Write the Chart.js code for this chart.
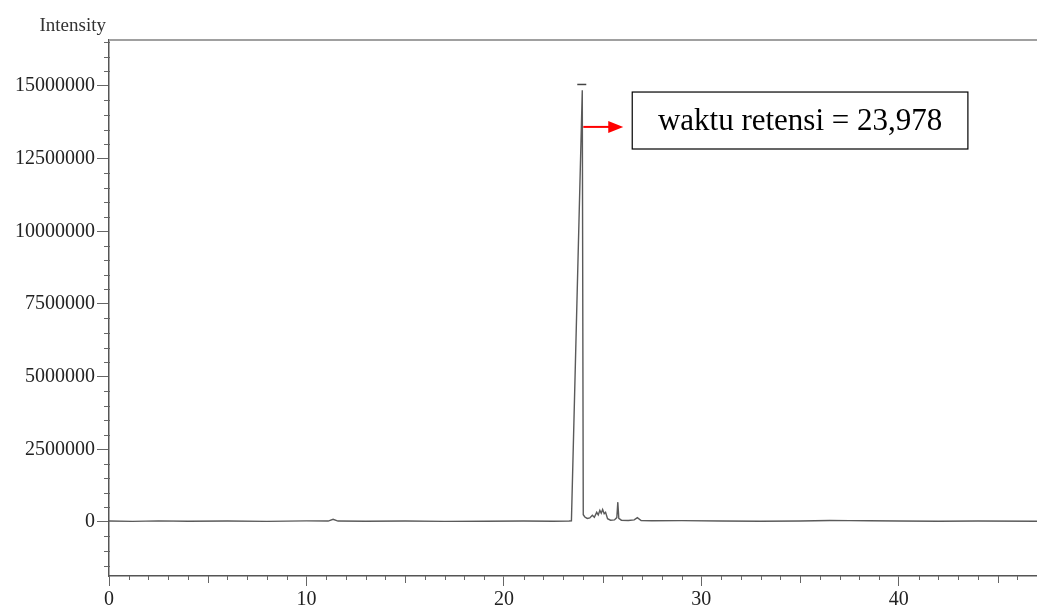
<!DOCTYPE html>
<html>
<head>
<meta charset="utf-8">
<script src="https://cdn.jsdelivr.net/npm/chart.js@4.4.1/dist/chart.umd.min.js"></script>
<style>
html, body { margin: 0; padding: 0; background: #fff; }
</style>
</head>
<body>
<canvas id="chromChart" width="1037" height="608"></canvas>
<script>
// chromatogram
const retentionTime = [0, 1.2, 2.5, 4, 6, 8, 10, 11.1, 11.35, 11.6, 13, 15, 17, 19, 21, 22.5,
    23.3, 23.42, 23.97, 24.02, 24.1, 24.22, 24.35, 24.48, 24.58, 24.7, 24.78, 24.86, 24.93,
    25.0, 25.08, 25.15, 25.25, 25.4, 25.6, 25.72, 25.77, 25.82, 25.95, 26.3, 26.6, 26.76,
    26.95, 27.5, 29, 31, 33, 35, 36.5, 37.5, 38.5, 40, 42, 44, 47];
const intensity = [30000, 20000, 35000, 25000, 30000, 20000, 35000, 30000, 90000, 30000,
    25000, 30000, 20000, 25000, 30000, 25000, 30000, 40000, 14850000, 250000, 170000, 120000,
    140000, 230000, 160000, 330000, 240000, 400000, 300000, 430000, 280000, 330000, 110000,
    60000, 70000, 150000, 680000, 120000, 60000, 50000, 70000, 150000, 50000, 40000, 45000,
    30000, 25000, 30000, 50000, 45000, 40000, 30000, 25000, 30000, 25000];

const xMajorTicks = [0, 10, 20, 30, 40];
const yMajorTicks = [0, 2500000, 5000000, 7500000, 10000000, 12500000, 15000000];
const xRange = [0, 47];
const yRange = [-1860000, 16580000];
const yTitle = "Intensity";

const peakTime = 23.97;
const peakLabel = "waktu retensi = 23,978";
// where the label box and arrow sit (in axis units)
const boxTimes = [26.5, 43.5];
const boxIntensity = [12830000, 14790000];
const arrowIntensity = 13590000;

const serif = "'Liberation Serif', 'Times New Roman', serif";

function range(from, to, step) {
    let out = [];
    for (let v = from; v <= to + 1e-9; v += step) out.push(Math.round(v * 1000) / 1000);
    return out;
}

const xAllTicks = range(0, 47, 1);
const yAllTicks = range(-1500000, 16500000, 500000);

// small ticks, borders, title and the annotation
const extras = {
    id: "extras",
    afterDraw(chart) {
        let ctx = chart.ctx;
        let area = chart.chartArea;
        let x = chart.scales.x;
        let y = chart.scales.y;

        ctx.save();
        ctx.strokeStyle = "#666";
        ctx.lineWidth = 1;
        xAllTicks.forEach(v => {
            if (xMajorTicks.includes(v)) return;
            let px = Math.round(x.getPixelForValue(v)) + 0.5;
            let len = v % 5 === 0 ? 7 : 4;
            ctx.beginPath();
            ctx.moveTo(px, area.bottom);
            ctx.lineTo(px, area.bottom + len);
            ctx.stroke();
        });
        yAllTicks.forEach(v => {
            if (yMajorTicks.includes(v)) return;
            let py = Math.round(y.getPixelForValue(v)) + 0.5;
            ctx.beginPath();
            ctx.moveTo(area.left - 5, py);
            ctx.lineTo(area.left + 1, py);
            ctx.stroke();
        });

        // top frame line
        ctx.strokeStyle = "#a0a0a0";
        ctx.lineWidth = 2;
        ctx.beginPath();
        ctx.moveTo(area.left, area.top);
        ctx.lineTo(chart.width, area.top);
        ctx.stroke();

        // axis title
        ctx.fillStyle = "#333";
        ctx.font = "19px " + serif;
        ctx.textAlign = "right";
        ctx.textBaseline = "alphabetic";
        ctx.fillText(yTitle, 106, 31);

        // peak number mark
        let peakX = x.getPixelForValue(peakTime);
        let markY = y.getPixelForValue(15050000);
        ctx.strokeStyle = "#444";
        ctx.lineWidth = 1.5;
        ctx.beginPath();
        ctx.moveTo(peakX - 5, markY);
        ctx.lineTo(peakX + 4, markY);
        ctx.stroke();

        // label box
        let bx1 = x.getPixelForValue(boxTimes[0]);
        let bx2 = x.getPixelForValue(boxTimes[1]);
        let by1 = y.getPixelForValue(boxIntensity[1]);
        let by2 = y.getPixelForValue(boxIntensity[0]);
        ctx.strokeStyle = "#000";
        ctx.lineWidth = 1.2;
        ctx.strokeRect(bx1, by1, bx2 - bx1, by2 - by1);
        ctx.fillStyle = "#000";
        ctx.font = "31px " + serif;
        ctx.textAlign = "center";
        ctx.textBaseline = "middle";
        ctx.fillText(peakLabel, (bx1 + bx2) / 2, (by1 + by2) / 2 + 1);

        // red arrow from the peak to the box
        let ay = y.getPixelForValue(arrowIntensity);
        let tip = bx1 - 9;
        ctx.strokeStyle = "#ff0000";
        ctx.fillStyle = "#ff0000";
        ctx.lineWidth = 2;
        ctx.beginPath();
        ctx.moveTo(peakX + 1, ay);
        ctx.lineTo(tip - 14, ay);
        ctx.stroke();
        ctx.beginPath();
        ctx.moveTo(tip, ay);
        ctx.lineTo(tip - 15, ay - 6);
        ctx.lineTo(tip - 15, ay + 6);
        ctx.closePath();
        ctx.fill();
        ctx.restore();
    }
};

let chart = new Chart(document.getElementById("chromChart"), {
    type: "line",
    data: {
        datasets: [{
            data: retentionTime.map((t, i) => ({ x: t, y: intensity[i] })),
            borderColor: "#5a5a5a",
            borderWidth: 1.4,
            pointRadius: 0,
            tension: 0,
            fill: false
        }]
    },
    options: {
        responsive: false,
        animation: false,
        layout: { padding: { top: 40, right: 0, left: 0, bottom: 0 } },
        plugins: {
            legend: { display: false },
            tooltip: { enabled: false }
        },
        scales: {
            x: {
                type: "linear",
                min: xRange[0],
                max: xRange[1],
                afterBuildTicks: scale => {
                    scale.ticks = xAllTicks.map(v => ({ value: v }));
                },
                afterFit: scale => {
                    scale.height = 32;
                    scale.paddingRight = 0;
                    scale.paddingLeft = 0;
                },
                ticks: {
                    autoSkip: false,
                    maxRotation: 0,
                    padding: 2,
                    color: "#222",
                    font: { family: serif, size: 20 },
                    callback: v => xMajorTicks.includes(v) ? String(v) : ""
                },
                grid: {
                    display: true,
                    drawOnChartArea: false,
                    tickLength: 10,
                    tickWidth: 1,
                    tickColor: c => xMajorTicks.includes(c.tick && c.tick.value) ? "#666" : "rgba(0,0,0,0)"
                },
                border: { display: true, color: "#555", width: 1.5 }
            },
            y: {
                type: "linear",
                min: yRange[0],
                max: yRange[1],
                afterBuildTicks: scale => {
                    scale.ticks = yAllTicks.map(v => ({ value: v }));
                },
                afterFit: scale => { scale.width = 109; },
                ticks: {
                    autoSkip: false,
                    padding: 2,
                    color: "#222",
                    font: { family: serif, size: 20 },
                    callback: v => yMajorTicks.includes(v) ? String(v) : ""
                },
                grid: {
                    display: true,
                    drawOnChartArea: false,
                    tickLength: 12,
                    tickWidth: 1,
                    tickColor: c => yMajorTicks.includes(c.tick && c.tick.value) ? "#666" : "rgba(0,0,0,0)"
                },
                border: { display: true, color: "#555", width: 1.5 }
            }
        }
    },
    plugins: [extras]
});
</script>
</body>
</html>
